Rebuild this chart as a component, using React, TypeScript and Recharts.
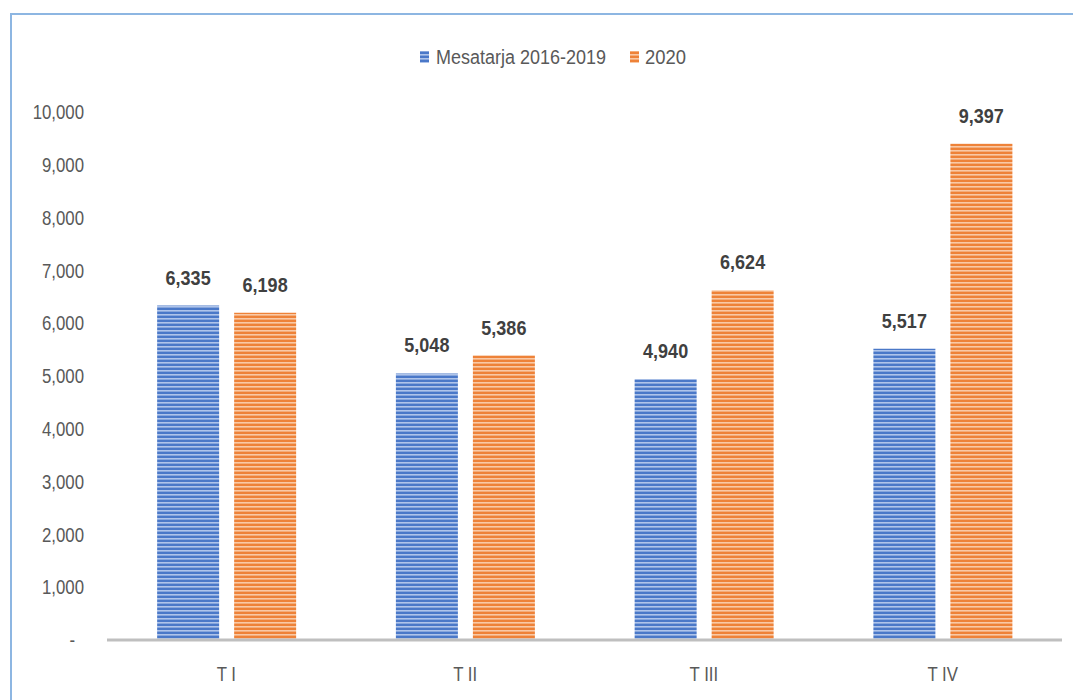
import React from "react";
import { BarChart, Bar, XAxis, YAxis, LabelList } from "recharts";

const categories = ["T I", "T II", "T III", "T IV"];
const avg20162019 = [6335, 5048, 4940, 5517];
const y2020 = [6198, 5386, 6624, 9397];
const yTicks = [0, 1000, 2000, 3000, 4000, 5000, 6000, 7000, 8000, 9000, 10000];
const seriesNames = ["Mesatarja 2016-2019", "2020"];
const seriesColors = ["#4472C4", "#ED7D31"];

const data = categories.map((c, i) => ({ cat: c, a: avg20162019[i], b: y2020[i] }));

const FONT = "'Liberation Sans', Arial, sans-serif";
const fmt = (v: number) => (v === 0 ? "-" : v.toLocaleString("en-US"));

const sx = (x: number, y: number, s: number) => `translate(${x},${y}) scale(${s},1) translate(${-x},${-y})`;

const YTick = (props: any) => {
  const { x, y, payload } = props;
  const v = Number(payload.value);
  const tx = v === 0 ? x - 9 : x;
  return (
    <text x={tx} y={y} textAnchor="end" dominantBaseline="central" fill="#595959" fontSize={21} fontFamily={FONT} transform={sx(tx, y, 0.8)}>
      {fmt(v)}
    </text>
  );
};

const XTick = (props: any) => {
  const { x, y, payload } = props;
  const by = y + 41;
  return (
    <text x={x} y={by} textAnchor="middle" fill="#595959" fontSize={21} fontFamily={FONT} transform={sx(x, by, 0.8)}>
      {payload.value}
    </text>
  );
};

const BarLabel = (props: any) => {
  const { x, y, width, value } = props;
  const cx = Number(x) + Number(width) / 2;
  const by = Number(y) - 21;
  return (
    <text x={cx} y={by} textAnchor="middle" fill="#404040" fontSize={20} fontWeight="bold" fontFamily={FONT} transform={sx(cx, by, 0.9)}>
      {fmt(Number(value))}
    </text>
  );
};

export default function App() {
  return (
    <div style={{ position: "absolute", left: 0, top: 0, width: 1073, height: 700, overflow: "hidden", background: "#fff" }}>
      <svg width={0} height={0} style={{ position: "absolute" }}>
        <defs>
          <pattern id="blueStripe" patternUnits="userSpaceOnUse" width={8} height={4}>
            <rect x={0} y={0} width={8} height={4} fill="#4A78C8" />
            <rect x={0} y={2} width={8} height={1.6} fill="#AFC4EA" />
          </pattern>
          <pattern id="orangeStripe" patternUnits="userSpaceOnUse" width={8} height={4}>
            <rect x={0} y={0} width={8} height={4} fill="#EE8238" />
            <rect x={0} y={2} width={8} height={1.6} fill="#F9C9A6" />
          </pattern>
        </defs>
      </svg>
      <div style={{ position: "absolute", left: 10, top: 13, width: 1100, height: 720, border: "2px solid #8DB6E2", boxSizing: "border-box" }} />
      <svg width={1073} height={100} style={{ position: "absolute", left: 0, top: 0 }}>
        <rect x={420} y={51} width={9} height={12} fill="url(#blueStripe)" />
        <text x={436} y={57} dominantBaseline="central" fill="#595959" fontSize={20} fontFamily={FONT} textLength={170} lengthAdjust="spacingAndGlyphs">
          {seriesNames[0]}
        </text>
        <rect x={630} y={51} width={9} height={12} fill="url(#orangeStripe)" />
        <text x={645} y={57} dominantBaseline="central" fill="#595959" fontSize={20} fontFamily={FONT} textLength={41} lengthAdjust="spacingAndGlyphs">
          {seriesNames[1]}
        </text>
      </svg>
      <div style={{ position: "absolute", left: 0, top: 0 }}>
        <BarChart
          width={1073}
          height={700}
          data={data}
          margin={{ top: 112, right: 11, bottom: 30, left: 0 }}
          barCategoryGap="21%"
          barGap={15}
        >
          <YAxis
            width={107}
            domain={[0, 10000]}
            ticks={yTicks}
            axisLine={false}
            tickLine={false}
            tickSize={0}
            tickMargin={23}
            tick={<YTick />}
          />
          <XAxis
            dataKey="cat"
            height={30}
            axisLine={{ stroke: "#BFBFBF", strokeWidth: 3 }}
            tickLine={false}
            tickSize={0}
            tickMargin={0}
            tick={<XTick />}
          />
          <Bar dataKey="a" name={seriesNames[0]} fill="url(#blueStripe)" isAnimationActive={false}>
            <LabelList dataKey="a" content={<BarLabel />} />
          </Bar>
          <Bar dataKey="b" name={seriesNames[1]} fill="url(#orangeStripe)" isAnimationActive={false}>
            <LabelList dataKey="b" content={<BarLabel />} />
          </Bar>
        </BarChart>
      </div>
    </div>
  );
}
